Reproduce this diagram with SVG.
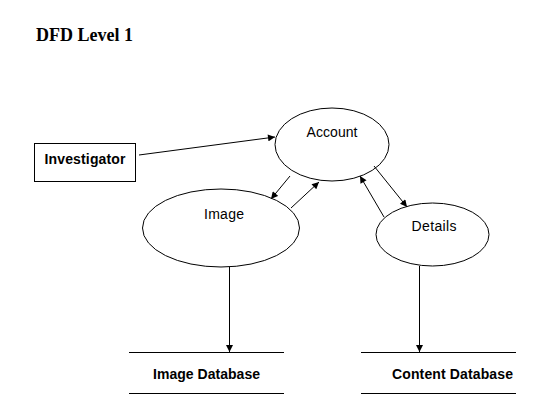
<svg xmlns="http://www.w3.org/2000/svg" width="541" height="407" viewBox="0 0 541 407">
<style>
.shape{fill:#fff;stroke:#000;stroke-width:1}
.lbl{font-family:"Liberation Sans",Arial,sans-serif;font-size:14px;fill:#000}
.b{font-weight:bold;font-size:14px}
.title{font-family:"Liberation Serif","Times New Roman",serif;font-weight:bold;font-size:18px;fill:#000}
.conn line{stroke:#000;stroke-width:1;marker-end:url(#ah)}
.store{stroke:#000;stroke-width:1}
</style>
<defs>
<marker id="ah" viewBox="0 0 10 10" refX="10" refY="5" markerWidth="9" markerHeight="7" markerUnits="userSpaceOnUse" orient="auto">
<path d="M0,0 L10,5 L0,10 z" fill="#000"/>
</marker>
</defs>
<rect width="541" height="407" fill="#fff"/>
<text class="title" x="36" y="41" textLength="97">DFD Level 1</text>
<g id="investigator">
<rect class="shape" x="34.5" y="143.5" width="101" height="38"/>
<text class="lbl b" x="85" y="164" text-anchor="middle" textLength="81">Investigator</text>
</g>
<g id="account">
<ellipse class="shape" cx="332" cy="144.5" rx="57" ry="36.5"/>
<text class="lbl" x="332" y="137" text-anchor="middle" textLength="51">Account</text>
</g>
<g id="image">
<ellipse class="shape" cx="221" cy="228" rx="78.5" ry="39"/>
<text class="lbl" x="224" y="219" text-anchor="middle" textLength="40">Image</text>
</g>
<g id="details">
<ellipse class="shape" cx="432.5" cy="234.5" rx="56.5" ry="31.5"/>
<text class="lbl" x="434" y="231" text-anchor="middle" textLength="45">Details</text>
</g>
<g id="image-database">
<line class="store" x1="129" y1="352.5" x2="284" y2="352.5"/>
<line class="store" x1="129" y1="393.5" x2="284" y2="393.5"/>
<text class="lbl b" x="206.5" y="379" text-anchor="middle" textLength="107">Image Database</text>
</g>
<g id="content-database">
<line class="store" x1="361" y1="352.5" x2="516" y2="352.5"/>
<line class="store" x1="361" y1="393.5" x2="516" y2="393.5"/>
<text class="lbl b" x="452.5" y="379" text-anchor="middle" textLength="121">Content Database</text>
</g>
<g id="connectors" class="conn">
<line x1="139" y1="155" x2="275" y2="137"/>
<line x1="290" y1="176" x2="271" y2="199"/>
<line x1="291" y1="208" x2="319" y2="182"/>
<line x1="374" y1="166" x2="407" y2="207"/>
<line x1="384" y1="217" x2="360" y2="176"/>
<line x1="229.5" y1="267" x2="229.5" y2="352"/>
<line x1="419.5" y1="266" x2="419.5" y2="352"/>
</g>
</svg>
